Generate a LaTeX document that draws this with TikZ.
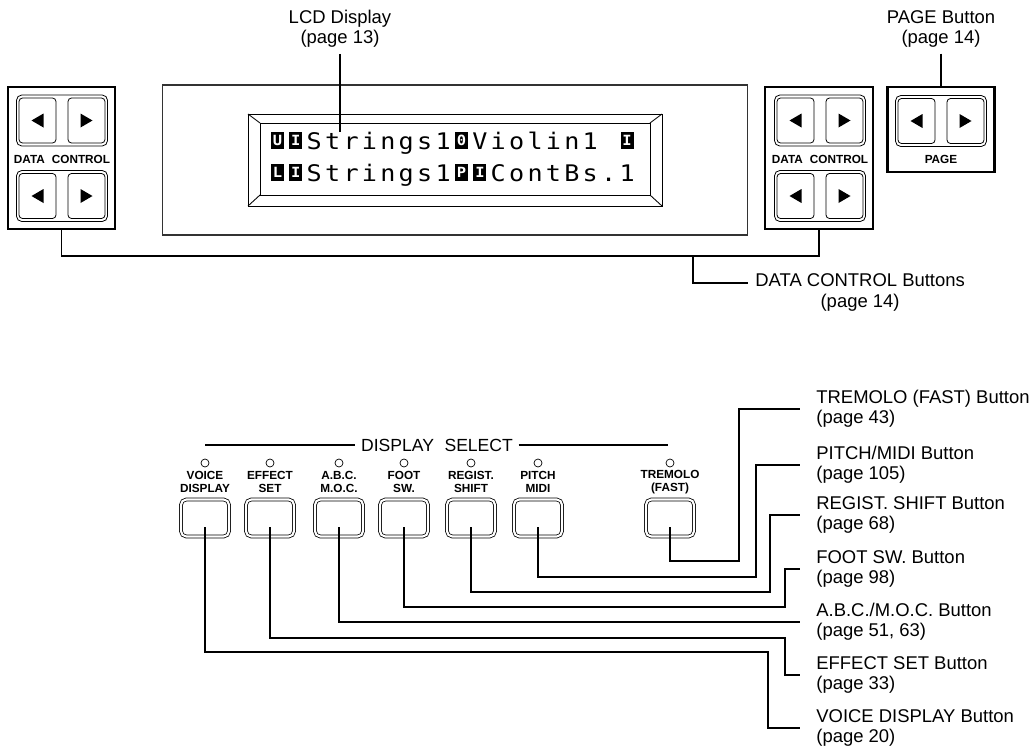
\documentclass[tikz,border=0pt]{standalone}
\usepackage{fontspec}
\setmainfont{Liberation Sans}
\newfontfamily\lcdfont[FakeStretch=1.1]{DejaVu Sans Mono}
\usetikzlibrary{positioning}

\tikzset{
  keypair/.pic={
    \draw[rounded corners=3pt, line width=0.45pt] (-45.5,-25.5) rectangle (45.5,25.5);
    \foreach \s in {-1,1} {
      \draw[rounded corners=2pt, line width=0.45pt] (\s*6,-22.5) rectangle (\s*43,22.5);
      \fill (\s*18.5,-7) -- (\s*30.5,0) -- (\s*18.5,7) -- cycle;
    }
  }
}

\begin{document}
\begin{tikzpicture}[x=0.02cm, y=-0.02cm,
  lbl/.style={anchor=west, align=left, inner sep=0pt, font=\fontsize{10.5}{11.5}\selectfont},
  toplbl/.style={align=center, font=\fontsize{10.5}{11.5}\selectfont},
  lead/.style={line width=1.1pt},
  panel/.style={draw, line width=1.3pt, inner sep=0pt},
  btn/.style={draw, double, double distance=1.2pt, line width=0.45pt, rounded corners=3pt,
              minimum width=0.96cm, minimum height=0.74cm, inner sep=0pt},
  btncap/.style={align=center, inner sep=0pt, font=\bfseries\fontsize{6.7}{7}\selectfont},
  led/.style={draw, circle, line width=0.4pt, minimum size=0.16cm, inner sep=0pt},
  lcd0/.style={anchor=base, inner sep=0pt, font=\lcdfont\fontsize{13}{13}\selectfont},
  lcd1/.style={anchor=south, fill=black, text=white, minimum width=0.26cm, minimum height=0.34cm,
               inner sep=0pt, font=\lcdfont\bfseries\fontsize{8}{8}\selectfont}
]
\useasboundingbox (0,0) rectangle (1035,754);

% top: panels and LCD
\node[panel, minimum width=2.14cm, minimum height=2.84cm] (dcl) at (61.5,158) {};
\node[panel, minimum width=2.16cm, minimum height=2.84cm] (dcr) at (819,158) {};
\node[panel, minimum width=2.14cm, minimum height=1.7cm] (pagep) at (941,129.5) {};
\pic at (62,120.5) {keypair};
\pic at (62,196) {keypair};
\pic at (820,120.5) {keypair};
\pic at (820,196) {keypair};
\pic at (941,121) {keypair};
\node[btncap] (dcltxt) at (62,159) {DATA\hspace{0.6em}CONTROL};
\node[btncap] (dcrtxt) at (820,159) {DATA\hspace{0.6em}CONTROL};
\node[btncap] (pagetxt) at (941,159) {PAGE};

\node[draw=black!80, line width=0.6pt, minimum width=11.72cm, minimum height=3cm] (lcd) at (455,160) {};
\draw[line width=0.5pt] (248,114) rectangle (662,206) (260,123) rectangle (650,195);
\draw[line width=0.5pt] (248,114) -- (260,123) (662,114) -- (650,123)
  (248,206) -- (260,195) (662,206) -- (650,195);

\foreach \c/\k [count=\i from 0] in {U/1,I/1,S/0,t/0,r/0,i/0,n/0,g/0,s/0,1/0,0/1,V/0,i/0,o/0,l/0,i/0,n/0,1/0,{}/0,I/1}
  \node[lcd\k] (ra\i) at (277.5+18.4*\i,149) {\c};
\foreach \c/\k [count=\i from 0] in {L/1,I/1,S/0,t/0,r/0,i/0,n/0,g/0,s/0,1/0,P/1,I/1,C/0,o/0,n/0,t/0,B/0,s/0,./0,1/0}
  \node[lcd\k] (rb\i) at (277.5+18.4*\i,181) {\c};

\node[toplbl] (lcdL) at (340,29) {LCD Display\\(page 13)};
\coordinate (lcdpt) at (340,132);
\draw[lead] (lcdL.south) -- (lcdpt);
\node[toplbl] (pageL) at (941,29) {PAGE Button\\(page 14)};
\draw[lead] (pageL.south) -- (pagep.north);

\draw[lead] (dcl.south) -- ++(0,26) -| (dcr.south);
\coordinate (dcj) at (693,255);
\node[lbl, align=center] (dcbL) at (755,292.5) {DATA CONTROL Buttons\\(page 14)};
\draw[lead] (dcj) |- ([yshift=0.19cm, xshift=-0.14cm]dcbL.west);

% bottom: display select buttons
\node[font=\fontsize{10}{12}\selectfont, inner sep=3pt] (dsel) at (437,445) {DISPLAY\hspace{0.6em}SELECT};
\coordinate (dsl) at (205,445);
\coordinate (dsr) at (668,445);
\draw[line width=0.9pt] (dsl) -- (dsel.west) (dsel.east) -- (dsr);

\foreach \n/\x/\t in {bv/205/{VOICE\\DISPLAY}, be/270/{EFFECT\\SET}, ba/339/{A.B.C.\\M.O.C.},
    bf/404/{FOOT\\SW.}, br/471/{REGIST.\\SHIFT}, bp/538/{PITCH\\MIDI}, bt/670/{TREMOLO\\(FAST)}} {
  \node[led] (\n-led) at (\x,463) {};
  \node[btncap] (\n-cap) at (\x,482) {\t};
  \node[btn] (\n) at (\x,518) {};
}

\foreach \n/\y/\t in {lt/409/{TREMOLO (FAST) Button\\(page 43)}, lp/465/{PITCH/MIDI Button\\(page 105)},
    lr/515/{REGIST. SHIFT Button\\(page 68)}, lf/569/{FOOT SW. Button\\(page 98)},
    la/622/{A.B.C./M.O.C. Button\\(page 51, 63)}, le/675/{EFFECT SET Button\\(page 33)},
    lv/728/{VOICE DISPLAY Button\\(page 20)}}
  \node[lbl] (\n) at (816,\y) {\t};

\draw[lead] ([yshift=-0.18cm]bt.center) |- (739,561) |- ([xshift=-0.32cm]lt.west);
\draw[lead] ([yshift=-0.18cm]bp.center) |- (756,577) |- ([xshift=-0.32cm]lp.west);
\draw[lead] ([yshift=-0.18cm]br.center) |- (770,592) |- ([xshift=-0.32cm]lr.west);
\draw[lead] ([yshift=-0.18cm]bf.center) |- (785,607) |- ([xshift=-0.32cm]lf.west);
\draw[lead] ([yshift=-0.18cm]ba.center) |- ([xshift=-0.32cm]la.west);
\draw[lead] ([yshift=-0.18cm]be.center) |- (785,638) |- ([xshift=-0.32cm]le.west);
\draw[lead] ([yshift=-0.18cm]bv.center) |- (768,652) |- ([xshift=-0.32cm]lv.west);
\end{tikzpicture}
\end{document}
